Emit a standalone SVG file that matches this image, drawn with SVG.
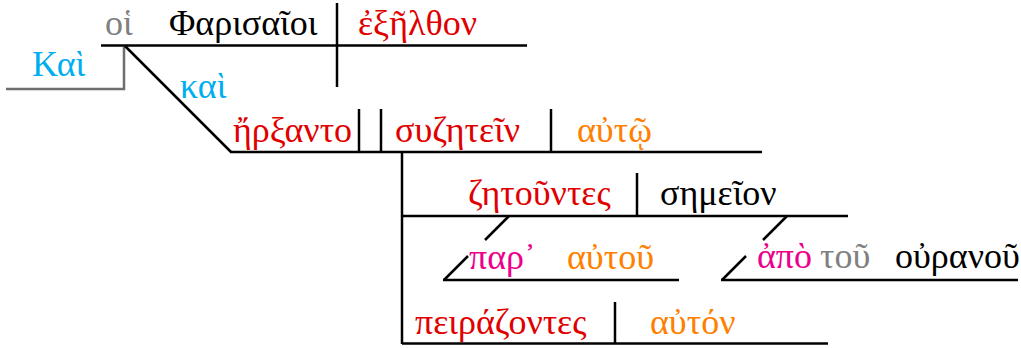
<svg xmlns="http://www.w3.org/2000/svg" width="1021" height="348" viewBox="0 0 1021 348" font-family="'Liberation Serif', 'Times New Roman', serif" font-size="36">
<style>
.red{fill:#e00000}.blk{fill:#000}.gry{fill:#808080}.cyn{fill:#00aeef}.org{fill:#ff8000}.mag{fill:#ec008c}
line,polyline{stroke:#000;stroke-width:2.5;fill:none}
.g{stroke:#6e6e6e}
</style>
<rect width="1021" height="348" fill="#fff"/>
<g id="connectors">
<line x1="101" y1="45.5" x2="527" y2="45.5"/>
<line x1="337" y1="3" x2="337" y2="87"/>
<polyline class="g" points="6,89 124,89 124,47"/>
<line x1="125" y1="46" x2="231" y2="152"/>
<line x1="230" y1="152" x2="762" y2="152"/>
<line x1="359" y1="109" x2="359" y2="152"/>
<line x1="381" y1="109" x2="381" y2="152"/>
<line x1="551" y1="109" x2="551" y2="152"/>
<line x1="402" y1="152" x2="402" y2="344"/>
<line x1="402" y1="216" x2="848" y2="216"/>
<line x1="637" y1="173" x2="637" y2="216"/>
<line x1="509" y1="216" x2="485" y2="240"/>
<line x1="468" y1="256" x2="444" y2="280"/>
<line x1="443" y1="280" x2="679" y2="280"/>
<line x1="787" y1="216" x2="763" y2="240"/>
<line x1="746" y1="256" x2="722" y2="280"/>
<line x1="721" y1="280" x2="1018" y2="280"/>
<line x1="402" y1="343.5" x2="828" y2="343.5"/>
<line x1="615" y1="302" x2="615" y2="344"/>
</g>
<g id="oi"><text class="gry" x="105" y="34.5">οἱ</text></g>
<g id="Pharisaioi"><text class="blk" x="169" y="34.5">Φαρισαῖοι</text></g>
<g id="exelthon"><text class="red" x="358" y="34.5">ἐξῆλθον</text></g>
<g id="Kai"><text class="cyn" x="32" y="76">Καὶ</text></g>
<g id="kai"><text class="cyn" x="180" y="98">καὶ</text></g>
<g id="erxanto"><text class="red" x="233" y="142">ἤρξαντο</text></g>
<g id="syzetein"><text class="red" x="395" y="142">συζητεῖν</text></g>
<g id="auto"><text class="org" x="577" y="142">αὐτῷ</text></g>
<g id="zetountes"><text class="red" x="468" y="205">ζητοῦντες</text></g>
<g id="semeion"><text class="blk" x="660" y="205">σημεῖον</text></g>
<g id="par"><text class="mag" x="469" y="269">παρ᾽</text></g>
<g id="autou"><text class="org" x="567" y="269">αὐτοῦ</text></g>
<g id="apo"><text class="mag" x="757" y="268">ἀπὸ</text></g>
<g id="tou"><text class="gry" x="820" y="268">τοῦ</text></g>
<g id="ouranou"><text class="blk" x="895" y="268">οὐρανοῦ</text></g>
<g id="peirazontes"><text class="red" x="415" y="334">πειράζοντες</text></g>
<g id="auton"><text class="org" x="650" y="334">αὐτόν</text></g>
</svg>
